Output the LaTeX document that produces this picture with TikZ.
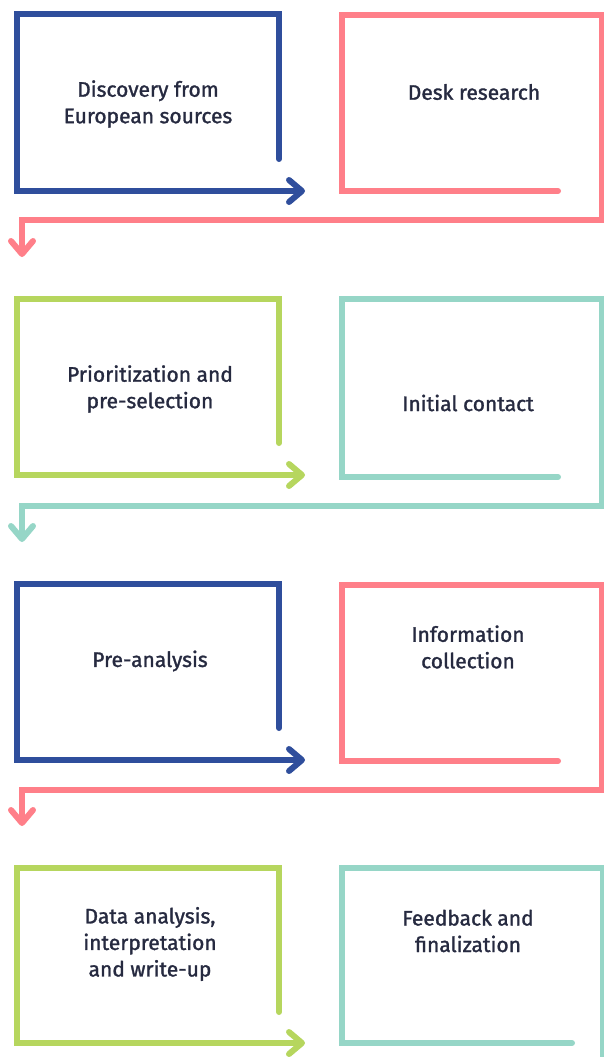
\documentclass[tikz,border=0pt]{standalone}
\usepackage{fontspec}
\setmainfont{Fira Sans}
\newfontfamily\stepfont{Fira Sans}[FakeBold=1.4]
\usetikzlibrary{positioning, arrows.meta}
\definecolor{stepblue}{HTML}{2F4E9C}
\definecolor{steppink}{HTML}{FF7F89}
\definecolor{stepgreen}{HTML}{B6D65E}
\definecolor{stepteal}{HTML}{96D6C7}
\definecolor{steptext}{HTML}{262A40}

\begin{document}
\begin{tikzpicture}[x=1pt, y=-1pt,
  frame/.style={line width=6pt, line cap=round, line join=miter},
  flow/.style={frame, -{Straight Barb[length=13pt, width=22pt, round]}},
  label/.style={align=center, text=steptext, font=\stepfont\fontsize{21}{26.5}\selectfont}]

\useasboundingbox (0,0) rectangle (604,1057);

% row 1
\draw [flow, stepblue] (279,159) -- (279,14) -- (17,14) -- (17,191) -- (305,191);
\draw [flow, steppink] (558,191) -- (342,191) -- (342,15) -- (602,15) -- (602,220) -- (22,220) -- (22,257);
\node[label] at (148,104) (disc) {Discovery from\\European sources};
\node[label] at (474,92) (desk) {Desk research};

% row 2
\draw [flow, stepgreen] (279,443) -- (279,299) -- (17,299) -- (17,475) -- (305,475);
\draw [flow, stepteal] (558,477) -- (342,477) -- (342,299) -- (602,299) -- (602,506) -- (22,506) -- (22,542);
\node[label] at (150,389) (prio) {Prioritization and\\pre-selection};
\node[label] at (468,403) (cont) {Initial contact};

% row 3
\draw [flow, stepblue] (279,728) -- (279,584) -- (17,584) -- (17,760) -- (305,760);
\draw [flow, steppink] (558,761) -- (342,761) -- (342,585) -- (602,585) -- (602,790) -- (22,790) -- (22,826);
\node[label] at (150,661) (pre) {Pre-analysis};
\node[label] at (468,647) (info) {Information\\collection};

% row 4
\draw [flow, stepgreen] (279,1012) -- (279,868) -- (17,868) -- (17,1043) -- (305,1043);
\draw [frame, stepteal] (572,1043) -- (342,1043) -- (342,868) -- (603,868) -- (603,1062);
\node[label] at (150,944) (data) {Data analysis,\\interpretation\\and write-up};
\node[label] at (468,931) (feed) {Feedback and\\finalization};

\end{tikzpicture}
\end{document}
